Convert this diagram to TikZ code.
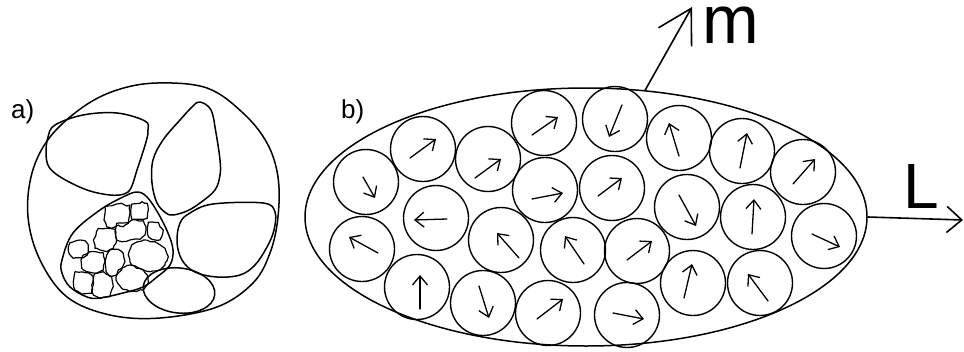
\documentclass[tikz,border=0pt]{standalone}
\usepackage{fontspec}
\setmainfont{Liberation Sans}
\usetikzlibrary{arrows.meta,shapes.geometric,decorations.pathmorphing}
\begin{document}
\begin{tikzpicture}[x=1pt,y=-1pt,
  outline/.style={line width=1.5pt, line join=round},
  grain/.style={circle, draw, line width=1.4pt, minimum size=65pt, inner sep=0pt},
  spin/.style={line width=1.3pt, line cap=round, -{Straight Barb[length=9pt,width=15pt]}},
  crystal/.style={line width=1.2pt, line join=round,
    decorate, decoration={random steps, segment length=3.5pt, amplitude=0.7pt}},
  lbl/.style={inner sep=0pt, anchor=base west},
  axis/.style={line width=1.6pt}]
\useasboundingbox (0,0) rectangle (964,351);

% ---------- a) grain aggregate ----------
\node[lbl, font=\fontsize{26}{26}\selectfont] (la) at (11,118) {a)};
\draw[outline] plot[smooth cycle, tension=0.6] coordinates {(157,83) (207,88) (243,113) (267,143) (278,177) (278,217) (270,253) (253,283) (217,307) (160,318) (110,315) (67,297) (40,260) (28,217) (32,173) (50,137) (83,107) (117,90)};
% large single-domain particles
\draw[outline] plot[smooth cycle, tension=0.6] coordinates {(55,125) (83,115) (117,113) (145,121) (148,130) (146,142) (137,170) (131,188) (124,194) (110,195) (87,190) (62,178) (49,167) (46,153) (48,137)};
\draw[outline] plot[smooth cycle, tension=0.6] coordinates {(200,102) (211,110) (216,133) (220,160) (220,175) (215,190) (200,203) (187,211) (173,215) (166,213) (157,203) (152,183) (153,160) (163,140) (180,120) (193,106)};
\draw[outline] plot[smooth cycle, tension=0.6] coordinates {(190,213) (213,204) (263,203) (275,212) (274,230) (267,247) (255,265) (240,275) (217,277) (195,272) (182,260) (177,242) (180,223)};
\draw[outline] (179,290.5) ellipse [x radius=36, y radius=22.5, rotate=-7];
% pocket of fine crystallites
\draw[outline] plot[smooth cycle, tension=0.6] coordinates {(62,260) (73,233) (100,210) (123,197) (137,192) (147,197) (158,213) (168,233) (173,250) (170,265) (157,277) (143,287) (123,293) (100,298) (87,297) (70,287) (62,273)};
\pgfmathsetseed{5}
\foreach \poly in {
  {(105,206.7) (116.7,204) (121.7,203.3) (126.7,206) (130,205) (129.3,216.7) (128.3,223.3) (123.3,226.7) (118.3,225) (111.7,228.3) (106.7,226.7) (104,220) (105,213.3)},
  {(131.7,204) (140,203.3) (141.7,201.7) (147.3,203.3) (148.3,210) (147.3,218.3) (140,219.3) (131.7,219.3) (130.7,211.7)},
  {(148.3,222.3) (158.3,222.3) (160,226.7) (163.3,230) (161.7,236.7) (160,240) (151.7,239.3) (148.3,236.7) (147.3,228.3)},
  {(116.7,223.3) (128.3,222.7) (131.7,220) (143.3,220.7) (146,226.7) (145,235) (140,239.3) (130,240) (121.7,241.7) (116.7,240) (115,231.7)},
  {(98.3,228.3) (106.7,228.3) (115,229.3) (116.7,240) (113.3,248.3) (106.7,251.7) (100,250) (95,248.3) (93.3,240) (96,235)},
  {(70,242.7) (80,240) (85,240.7) (88.3,245) (87.3,255) (83.3,257.7) (73.3,258.3) (69.3,254) (68.3,246.7)},
  {(83.3,255) (90,251.7) (103.3,252.7) (105,261.7) (103.3,270) (96.7,273.3) (86.7,271.7) (81.7,268.3) (81,260)},
  {(110,250) (118.3,249.3) (123.3,253.3) (125,261.7) (121.7,270) (116.7,275) (110,276.7) (106,271.7) (105,261.7) (106.7,255)},
  {(131.7,245) (143.3,240) (155,241.7) (165,248.3) (168.3,256.7) (165,265) (160,270) (150,271.7) (141.7,269.3) (131.7,265) (128.3,255)},
  {(75,271.7) (88.3,272.7) (93.3,276.7) (92.7,286.7) (91.7,293.3) (81.7,294) (75,290) (73.3,281.7)},
  {(95,273.3) (103.3,271.7) (111.7,276.7) (113.3,286.7) (110,296.7) (100,298.3) (93.3,295) (91.7,285) (93.3,278.3)},
  {(118.3,270) (130,265) (143.3,270) (147.3,275) (148.3,283.3) (143.3,290) (130,291.7) (121.7,288.3) (116,280)}}
  \draw[crystal] plot[sharp cycle] coordinates \poly;

% ---------- b) elongated aggregate ----------
\node[lbl, font=\fontsize{26}{26}\selectfont] (lb) at (341,118) {b)};
\node[draw, ellipse, line width=1.5pt, minimum width=562pt, minimum height=258pt, inner sep=0pt] (body) at (586,217) {};
\foreach \n/\x/\y/\ax/\ay/\bx/\by in {
  1/366/182/363/177/375/198,
  2/423/149/410/158/436/139,
  3/488/159/475/178/501/159,
  4/544/123/532/135/558/117,
  5/615/119/622/105/609/137,
  6/436/218/447/219/414/220,
  7/362/249/378/253/349/237,
  8/417/287/420/309/420/275,
  9/483/303/479/286/489/318,
  10/548/313/537/319/563/299,
  11/501/240/519/258/497/233,
  12/545/190/532/199/563/193,
  13/573/250/584/264/565/236,
  14/612/188/598/196/622/178,
  15/637/251/627/260/652/241,
  16/627/315/613/313/644/319,
  17/679/138/679/156/669/123,
  18/742/151/740/168/747/133,
  19/803/172/793/184/815/159,
  20/687/207/679/195/696/226,
  21/753/217/752/234/754/199,
  22/824/236/812/234/840/247,
  23/693/283/684/298/692/264,
  24/760/283/768/301/748/274}
{
  \node[grain] (g\n) at (\x,\y) {};
  \draw[spin] (\ax,\ay) -- (\bx,\by);
}

% magnetisation and long axis
\coordinate (mtip) at (692,7);
\coordinate (Ltip) at (963,220);
\draw[axis, -{Straight Barb[length=33pt,width=38pt]}] (body.65.7) -- (mtip);
\draw[axis, -{Straight Barb[length=15pt,width=26pt]}] (body.-0.6) -- (Ltip);
\node[lbl, font=\fontsize{68}{68}\selectfont] (lm) at (702,43) {m};
\node[lbl, font=\fontsize{64}{64}\selectfont] (lL) at (903,208) {L};
\end{tikzpicture}
\end{document}
